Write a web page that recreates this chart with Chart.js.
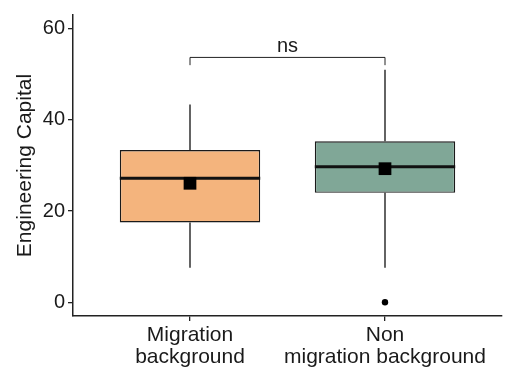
<!DOCTYPE html>
<html>
<head>
<meta charset="utf-8">
<script src="https://cdn.jsdelivr.net/npm/chart.js@4/dist/chart.umd.min.js"></script>
<style>
  html, body { margin: 0; padding: 0; background: #fff; }
</style>
</head>
<body>
<canvas id="boxChart" width="511" height="369"></canvas>
<script>
// Box plot values
var groups = [["Migration", "background"], ["Non", "migration background"]];
var q1 = [17.5, 24.0];
var q3 = [33.4, 35.3];
var medians = [27.2, 29.7];
var means = [26.1, 29.3];
var whiskerLow = [7.6, 7.6];
var whiskerHigh = [43.4, 51.0];
var outliers = [[], [0]];
var yTicks = [0, 20, 40, 60];
var boxColors = ["#F4B47D", "#80A797"];

// significance bracket between the two groups
var bracketY = 53.7;
var bracketTip = 52.0;
var bracketLabel = "ns";

var boxData = groups.map(function(g, i) { return { x: i + 1, y: [q1[i], q3[i]] }; });
var meanData = groups.map(function(g, i) { return { x: i + 1, y: means[i] }; });
var outlierData = [];
outliers.forEach(function(list, i) {
  list.forEach(function(v) { outlierData.push({ x: i + 1, y: v }); });
});

Chart.defaults.font.family = "'Liberation Sans', Arial, sans-serif";
Chart.defaults.color = "#1a1a1a";

// median, whiskers and the bracket are drawn with the chart's own scales
var boxExtras = {
  id: "boxExtras",
  afterDatasetDraw: function(chart, args) {
    if (args.index !== 0) return;
    var ctx = chart.ctx;
    var ys = chart.scales.y;
    var meta = chart.getDatasetMeta(0);
    meta.data.forEach(function(bar, i) {
      var x = bar.x;
      var half = bar.width / 2;
      ctx.save();
      ctx.strokeStyle = "#111";
      ctx.lineWidth = 1.3;
      ctx.beginPath();
      ctx.moveTo(x, ys.getPixelForValue(q3[i]));
      ctx.lineTo(x, ys.getPixelForValue(whiskerHigh[i]));
      ctx.moveTo(x, ys.getPixelForValue(q1[i]));
      ctx.lineTo(x, ys.getPixelForValue(whiskerLow[i]));
      ctx.stroke();
      var ym = ys.getPixelForValue(medians[i]);
      ctx.lineWidth = 3;
      ctx.beginPath();
      ctx.moveTo(x - half, ym);
      ctx.lineTo(x + half, ym);
      ctx.stroke();
      ctx.restore();
    });
  },
  afterDatasetsDraw: function(chart) {
    var ctx = chart.ctx;
    var xs = chart.scales.x, ys = chart.scales.y;
    var x1 = xs.getPixelForValue(1), x2 = xs.getPixelForValue(2);
    var yb = ys.getPixelForValue(bracketY), yt = ys.getPixelForValue(bracketTip);
    ctx.save();
    ctx.strokeStyle = "#222";
    ctx.lineWidth = 1;
    ctx.beginPath();
    ctx.moveTo(x1, yt);
    ctx.lineTo(x1, yb);
    ctx.lineTo(x2, yb);
    ctx.lineTo(x2, yt);
    ctx.stroke();
    ctx.fillStyle = "#1a1a1a";
    ctx.font = "20px 'Liberation Sans', Arial, sans-serif";
    ctx.textAlign = "center";
    ctx.textBaseline = "bottom";
    ctx.fillText(bracketLabel, (x1 + x2) / 2, yb - 1);
    ctx.restore();
  }
};

new Chart(document.getElementById("boxChart"), {
  type: "bar",
  data: {
    datasets: [
      {
        type: "bar",
        data: boxData,
        backgroundColor: boxColors,
        borderColor: "#1a1a1a",
        borderWidth: 1.4,
        borderSkipped: false,
        barPercentage: 0.72,
        categoryPercentage: 1,
        order: 2
      },
      {
        type: "scatter",
        data: meanData,
        pointStyle: "rect",
        pointRadius: 9,
        backgroundColor: "#000",
        borderWidth: 0,
        order: 1
      },
      {
        type: "scatter",
        data: outlierData,
        pointStyle: "circle",
        pointRadius: 3.2,
        backgroundColor: "#000",
        borderWidth: 0,
        order: 0
      }
    ]
  },
  options: {
    responsive: false,
    animation: false,
    layout: { padding: { left: 0, right: 9, top: 12, bottom: 0 } },
    plugins: { legend: { display: false }, tooltip: { enabled: false } },
    scales: {
      x: {
        type: "linear",
        offset: false,
        min: 0.4,
        max: 2.6,
        afterBuildTicks: function(s) { s.ticks = [{ value: 1 }, { value: 2 }]; },
        afterFit: function(s) { s.height = 53; },
        ticks: {
          font: { size: 21, lineHeight: 1.05 },
          padding: 3,
          maxRotation: 0,
          callback: function(v) { return groups[v - 1] || ""; }
        },
        grid: { offset: false, drawOnChartArea: false, tickLength: 5, color: "#222", lineWidth: 1.3 },
        border: { display: true, color: "#222", width: 1.5 }
      },
      y: {
        min: -3,
        max: 63,
        afterBuildTicks: function(s) { s.ticks = yTicks.map(function(v) { return { value: v }; }); },
        afterFit: function(s) { s.width = 73; },
        ticks: { font: { size: 20 }, padding: 3 },
        grid: { drawOnChartArea: false, tickLength: 5, color: "#222", lineWidth: 1.3 },
        border: { display: true, color: "#222", width: 1.5 },
        title: {
          display: true,
          text: "Engineering Capital",
          font: { size: 21 },
          padding: { top: 13, bottom: 0 }
        }
      }
    }
  },
  plugins: [boxExtras]
});
</script>
</body>
</html>
